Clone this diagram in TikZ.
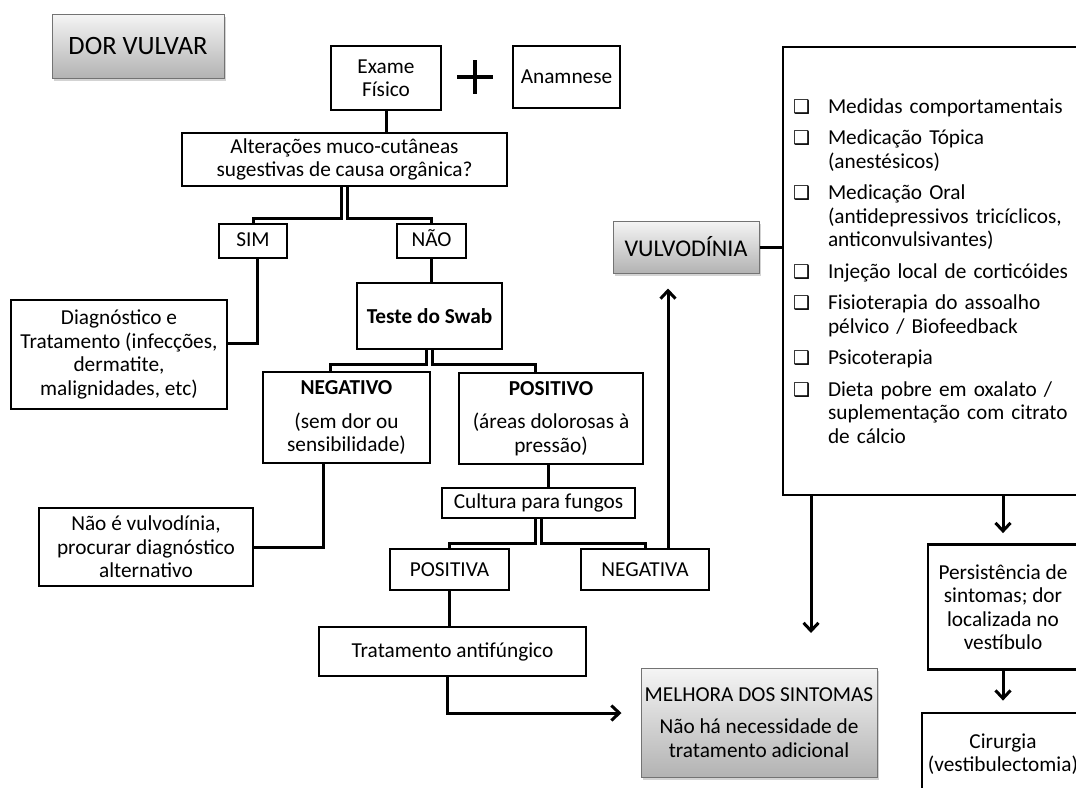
\documentclass[tikz,border=0pt]{standalone}
\usepackage{fontspec}
\setmainfont{Carlito}
\newfontfamily\symb{DejaVu Sans}
\usetikzlibrary{arrows.meta,shadows}
\newcommand{\corpo}{\fontsize{21.3}{23.5}\selectfont}
\newcommand{\opcao}[1]{\noindent\hangindent=35pt\hangafter=1\makebox[35pt][l]{\symb\fontsize{19}{19}\selectfont ❑}#1\par}

\begin{document}
\begin{tikzpicture}[x=1pt,y=-1pt]
  \tikzstyle{every node}=[font=\corpo]
  \tikzstyle{caixa}=[draw, line width=2.8pt, align=center, inner sep=0pt]
  \tikzstyle{titulo}=[draw=black!55, line width=1pt, align=center, inner sep=0pt,
    top color=black!4, bottom color=black!30,
    drop shadow={shadow xshift=2pt, shadow yshift=-2.5pt, opacity=0.35}]
  \tikzstyle{linha}=[line width=3pt]
  \tikzstyle{seta}=[line width=3pt, -{Straight Barb[length=8pt,width=15pt]}]

  \useasboundingbox (0,0) rectangle (1076,787);
  \clip (0,0) rectangle (1076,787);

  %Title
  \node[titulo, minimum width=172pt, minimum height=64pt,
    font=\fontsize{26.5}{30}\selectfont] (dor) at (138,46) {DOR VULVAR};

  %Exam + history:
  \node[caixa, minimum width=110pt, minimum height=64pt] (exame) at (386,78) {Exame\\Físico};
  \draw[line width=4pt] (457,77) -- (493,77) (475,60) -- (475,94);
  \node[caixa, minimum width=107pt, minimum height=62pt] (anam) at (566.5,77) {Anamnese};

  %Question and answers
  \node[caixa, minimum width=325pt, minimum height=53pt] (alter) at (344.5,159.5)
    {Alterações muco-cutâneas\\sugestivas de causa orgânica?};
  \node[caixa, minimum width=68pt, minimum height=34pt, text height=15pt, text depth=5pt] (sim) at (253,241) {SIM};
  \node[caixa, minimum width=69pt, minimum height=34pt, text height=15pt, text depth=5pt] (nao) at (431.5,241) {NÃO};
  \node[caixa, minimum width=216pt, minimum height=109pt] (diag) at (119,354.5)
    {Diagnóstico e\\Tratamento (infecções,\\dermatite,\\malignidades, etc)};

  %Swab test
  \node[caixa, minimum width=145pt, minimum height=66pt, font=\corpo\bfseries] (swab) at (429.5,316) {Teste do Swab};
  \node[caixa, minimum width=167pt, minimum height=91pt] (neg) at (346.5,417.5)
    {\textbf{NEGATIVO}\\[10pt](sem dor ou\\sensibilidade)};
  \node[caixa, minimum width=184pt, minimum height=91pt] (pos) at (551,418.5)
    {\textbf{POSITIVO}\\[10pt](áreas dolorosas à\\pressão)};
  \node[caixa, minimum width=214pt, minimum height=78pt] (naovulvo) at (146,547)
    {Não é vulvodínia,\\procurar diagnóstico\\alternativo};

  %Fungal culture
  \node[caixa, minimum width=193pt, minimum height=30pt] (cultura) at (538.5,503) {Cultura para fungos};
  \node[caixa, minimum width=119pt, minimum height=41pt] (positiva) at (449.5,569.5) {POSITIVA};
  \node[caixa, minimum width=128pt, minimum height=41pt] (negativa) at (645,569.5) {NEGATIVA};
  \node[caixa, minimum width=267pt, minimum height=49pt] (antif) at (452.5,651.5) {Tratamento antifúngico};
  \node[titulo, minimum width=236pt, minimum height=109pt] (melhora) at (759,722.5)
    {MELHORA DOS SINTOMAS\\[9pt]Não há necessidade de\\tratamento adicional};

  %Vulvodynia and its treatment
  \node[titulo, minimum width=146pt, minimum height=52pt,
    font=\fontsize{24}{28}\selectfont] (vulvo) at (686,247) {VULVODÍNIA};
  \node[caixa, minimum width=310pt, minimum height=448pt, text width=290pt, align=left] (medidas) at (938,271)
    {\raggedright\setlength{\parskip}{8pt}%
     \opcao{Medidas comportamentais}
     \opcao{Medicação Tópica\newline(anestésicos)}
     \opcao{Medicação Oral\newline(antidepressivos tricíclicos,\newline anticonvulsivantes)}
     \opcao{Injeção local de corticóides}
     \opcao{Fisioterapia do assoalho\newline pélvico / Biofeedback}
     \opcao{Psicoterapia}
     \opcao{Dieta pobre em oxalato /\newline suplementação com citrato\newline de cálcio}};
  \node[caixa, minimum width=150pt, minimum height=125pt] (persist) at (1003,607)
    {Persistência de\\sintomas; dor\\localizada no\\vestíbulo};
  \node[caixa, minimum width=162pt, minimum height=82pt] (cirurgia) at (1003,754)
    {Cirurgia\\(vestibulectomia)};
  \coordinate (fimseta) at (811,633);

  %Connectors
  \draw[linha] (exame.south) -- (exame.south |- alter.north);
  \draw[linha] ([xshift=-3pt]alter.south) -- ++(0,31) -| (sim.north);
  \draw[linha] ([xshift=3pt]alter.south) -- ++(0,31) -| (nao.north);
  \draw[linha] ([xshift=4pt]sim.south) |- ([yshift=11.5pt]diag.east);
  \draw[linha] (nao.south) -- (nao.south |- swab.north);
  \draw[linha] ([xshift=-3pt]swab.south) -- ++(0,14) -| ([xshift=-16.5pt]neg.north);
  \draw[linha] ([xshift=3pt]swab.south) -- ++(0,14) -| ([xshift=-16pt]pos.north);
  \draw[linha] ([xshift=-23.5pt]neg.south) |- (naovulvo.east);
  \draw[linha] ([xshift=-3pt]pos.south) -- ([xshift=9.5pt]cultura.north);
  \draw[linha] ([xshift=-3pt]cultura.south) -- ++(0,24) -| (positiva.north);
  \draw[linha] ([xshift=3pt]cultura.south) -- ++(0,24) -| (negativa.north);
  \draw[linha] (positiva.south) -- (positiva.south |- antif.north);
  \draw[seta, shorten >=15pt] ([xshift=23pt]negativa.north) -- ([xshift=-18pt]vulvo.south);
  \draw[seta, shorten >=19pt] ([xshift=-5.5pt]antif.south) |- ([yshift=9.5pt]melhora.west);
  \draw[linha] (vulvo.east) -- (vulvo.east -| medidas.west);
  \draw[seta] (fimseta |- medidas.south) -- (fimseta);
  \draw[seta, shorten >=10pt] (persist.north |- medidas.south) -- (persist.north);
  \draw[seta, shorten >=11pt] (persist.south) -- (cirurgia.north);
\end{tikzpicture}
\end{document}
